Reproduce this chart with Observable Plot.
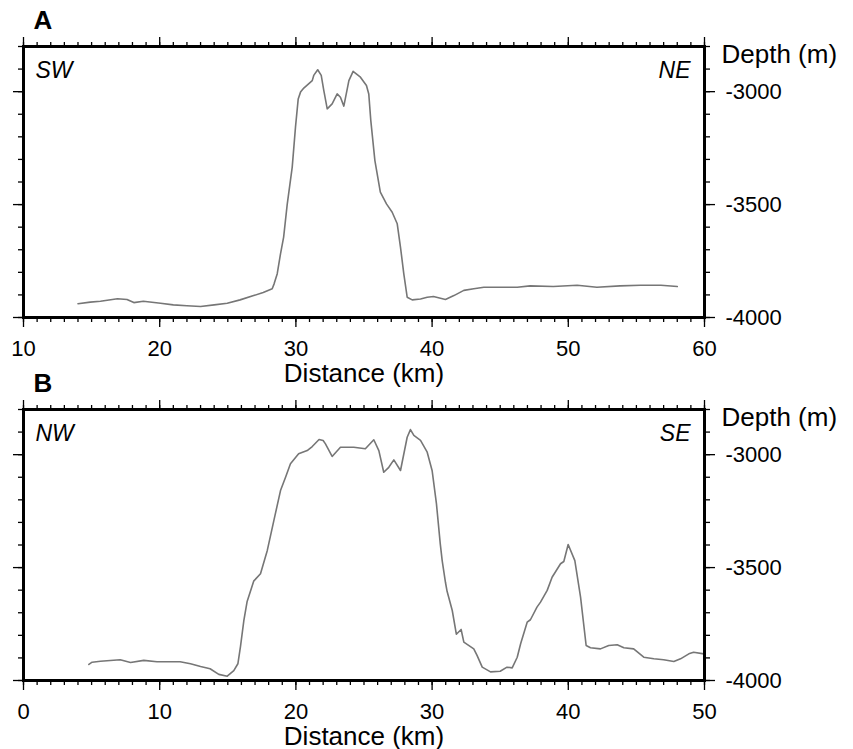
<!DOCTYPE html>
<html>
<head>
<meta charset="utf-8">
<script src="https://cdn.jsdelivr.net/npm/d3@7"></script>
<script src="https://cdn.jsdelivr.net/npm/@observablehq/plot@0.6"></script>
<style>
  html, body { margin: 0; padding: 0; background: white; }
  #chart { width: 853px; height: 749px; position: relative; }
  #chart svg { display: block; overflow: visible; }
</style>
</head>
<body>
<div id="chart"></div>
<script>
// ---- Panel A (SW - NE) ----
const profileA_km = [14.0, 14.9, 15.65, 16.9, 17.6, 18.1, 18.8, 20.06, 21.0, 22.0, 23.0, 24.0, 24.96, 25.9, 26.9, 27.6, 28.26, 28.4, 28.63, 28.87, 29.1, 29.36, 29.73, 29.97, 30.17, 30.34, 30.58, 31.2, 31.31, 31.6, 31.86, 32.05, 32.3, 32.66, 33.03, 33.27, 33.52, 33.89, 34.2, 34.74, 35.18, 35.35, 35.5, 35.8, 36.2, 36.65, 37.07, 37.44, 37.68, 37.92, 38.17, 38.54, 39.15, 39.64, 40.1, 40.98, 41.6, 42.33, 43.06, 43.8, 45.26, 46.25, 47.2, 48.9, 50.65, 52.1, 53.8, 55.3, 56.8, 58.0];
const profileA_depth = [-3939, -3932, -3928, -3917, -3920, -3934, -3928, -3937, -3944, -3948, -3951, -3944, -3937, -3922, -3903, -3889, -3873, -3851, -3806, -3718, -3644, -3500, -3334, -3157, -3032, -3002, -2984, -2951, -2928, -2903, -2928, -2995, -3076, -3054, -3010, -3025, -3064, -2951, -2910, -2936, -2973, -3010, -3128, -3305, -3445, -3497, -3534, -3585, -3689, -3806, -3910, -3922, -3918, -3910, -3907, -3920, -3903, -3880, -3873, -3866, -3866, -3866, -3860, -3863, -3857, -3866, -3860, -3857, -3857, -3863];

// ---- Panel B (NW - SE) ----
const profileB_km = [4.8, 5.04, 5.65, 7.1, 7.86, 8.83, 9.8, 11.5, 12.26, 13.0, 13.7, 14.34, 14.96, 15.44, 15.74, 15.93, 16.18, 16.42, 16.9, 17.4, 17.9, 18.38, 18.87, 19.24, 19.6, 20.2, 20.83, 21.2, 21.7, 22.0, 22.17, 22.66, 23.27, 24.25, 25.1, 25.72, 26.09, 26.45, 26.82, 27.19, 27.68, 28.17, 28.41, 28.66, 29.15, 29.64, 30.0, 30.32, 30.6, 30.74, 30.98, 31.1, 31.48, 31.78, 32.13, 32.33, 33.06, 33.3, 33.68, 34.29, 35.0, 35.5, 35.88, 36.25, 36.5, 36.98, 37.22, 37.7, 37.96, 38.45, 38.81, 39.43, 39.67, 39.99, 40.48, 40.9, 41.31, 41.63, 42.36, 42.97, 43.59, 44.08, 44.8, 45.54, 46.28, 47.0, 47.75, 48.24, 48.85, 49.2, 49.95];
const profileB_depth = [-3929, -3919, -3915, -3908, -3920, -3911, -3917, -3917, -3926, -3938, -3948, -3973, -3981, -3956, -3926, -3850, -3734, -3650, -3560, -3527, -3424, -3292, -3159, -3100, -3040, -2996, -2982, -2964, -2933, -2937, -2952, -3008, -2967, -2967, -2974, -2934, -2982, -3078, -3056, -3023, -3070, -2923, -2889, -2915, -2937, -2989, -3070, -3218, -3395, -3469, -3565, -3605, -3690, -3795, -3774, -3830, -3860, -3889, -3941, -3962, -3959, -3941, -3944, -3897, -3837, -3742, -3731, -3675, -3653, -3601, -3543, -3483, -3473, -3398, -3469, -3631, -3845, -3855, -3860, -3845, -3842, -3855, -3860, -3897, -3904, -3908, -3916, -3904, -3882, -3875, -3882];

// ---- Axes ----
const xMajorA = [10, 20, 30, 40, 50, 60];
const xMajorB = [0, 10, 20, 30, 40, 50];
const xMinorA = d3.range(10, 61, 1);
const xMinorB = d3.range(0, 51, 1);
const yMajor = [-4000, -3500, -3000];
const yMinor = d3.range(-4000, -2799, 100);
const yDomain = [-4000, -2800];

const xLabel = "Distance (km)";
const yLabel = "Depth (m)";

const FONT = "'Liberation Sans', Arial, Helvetica, sans-serif";

function panel({xDomain, xMajor, xMinor, km, depth, tag, leftDir, rightDir, height, marginTop, marginBottom}) {
  const data = km.map((k, i) => ({km: k, depth: depth[i]}));
  const blank = () => "";
  const tw = 1.3;
  return Plot.plot({
    width: 853,
    height,
    marginLeft: 23,
    marginRight: 149,
    marginTop,
    marginBottom,
    style: {fontFamily: FONT, background: "transparent", overflow: "visible", display: "block", color: "black"},
    x: {domain: xDomain},
    y: {domain: yDomain},
    marks: [
      Plot.line(data, {x: "km", y: "depth", stroke: "#767676", strokeWidth: 1.6}),
      // bottom
      Plot.axisX({anchor: "bottom", ticks: xMinor, tickSize: 5, tickFormat: blank, label: null, strokeWidth: tw}),
      Plot.axisX({anchor: "bottom", ticks: xMajor, tickSize: 10, tickPadding: 13, tickFormat: d => String(d), fontSize: 22, label: null, strokeWidth: tw}),
      // top
      Plot.axisX({anchor: "top", ticks: xMinor, tickSize: 5, tickFormat: blank, label: null, strokeWidth: tw}),
      Plot.axisX({anchor: "top", ticks: xMajor, tickSize: 10, tickFormat: blank, label: null, strokeWidth: tw}),
      // left
      Plot.axisY({anchor: "left", ticks: yMinor, tickSize: 5, tickFormat: blank, label: null, strokeWidth: tw}),
      Plot.axisY({anchor: "left", ticks: yMajor, tickSize: 10, tickFormat: blank, label: null, strokeWidth: tw}),
      // right
      Plot.axisY({anchor: "right", ticks: yMinor, tickSize: 5, tickFormat: blank, label: null, strokeWidth: tw}),
      Plot.axisY({anchor: "right", ticks: yMajor, tickSize: 10, tickPadding: 11, tickFormat: d => String(d), fontSize: 22, label: null, strokeWidth: tw}),
      Plot.frame({stroke: "black", strokeWidth: 3}),
      Plot.text([tag], {text: d => d, frameAnchor: "top-left", dx: 10, dy: -36, lineAnchor: "top", textAnchor: "start", fontWeight: "bold", fontSize: 26, fill: "black"}),
      Plot.text([xLabel], {text: d => d, frameAnchor: "bottom", dy: 46, lineAnchor: "top", fontSize: 26, fill: "black"}),
      Plot.text([yLabel], {text: d => d, frameAnchor: "top-right", dx: 17, dy: -2, lineAnchor: "top", textAnchor: "start", fontSize: 26, fill: "black"}),
      Plot.text([leftDir], {text: d => d, frameAnchor: "top-left", dx: 12, dy: 15, lineAnchor: "top", textAnchor: "start", fontStyle: "italic", fontSize: 23, fill: "black"}),
      Plot.text([rightDir], {text: d => d, frameAnchor: "top-right", dx: -14, dy: 15, lineAnchor: "top", textAnchor: "end", fontStyle: "italic", fontSize: 23, fill: "black"})
    ]
  });
}

const chart = document.getElementById("chart");
chart.append(panel({
  xDomain: [10, 60], xMajor: xMajorA, xMinor: xMinorA,
  km: profileA_km, depth: profileA_depth,
  tag: "A", leftDir: "SW", rightDir: "NE",
  height: 386, marginTop: 46, marginBottom: 69
}));
chart.append(panel({
  xDomain: [0, 50], xMajor: xMajorB, xMinor: xMinorB,
  km: profileB_km, depth: profileB_depth,
  tag: "B", leftDir: "NW", rightDir: "SE",
  height: 363, marginTop: 23, marginBottom: 69
}));
</script>
</body>
</html>
